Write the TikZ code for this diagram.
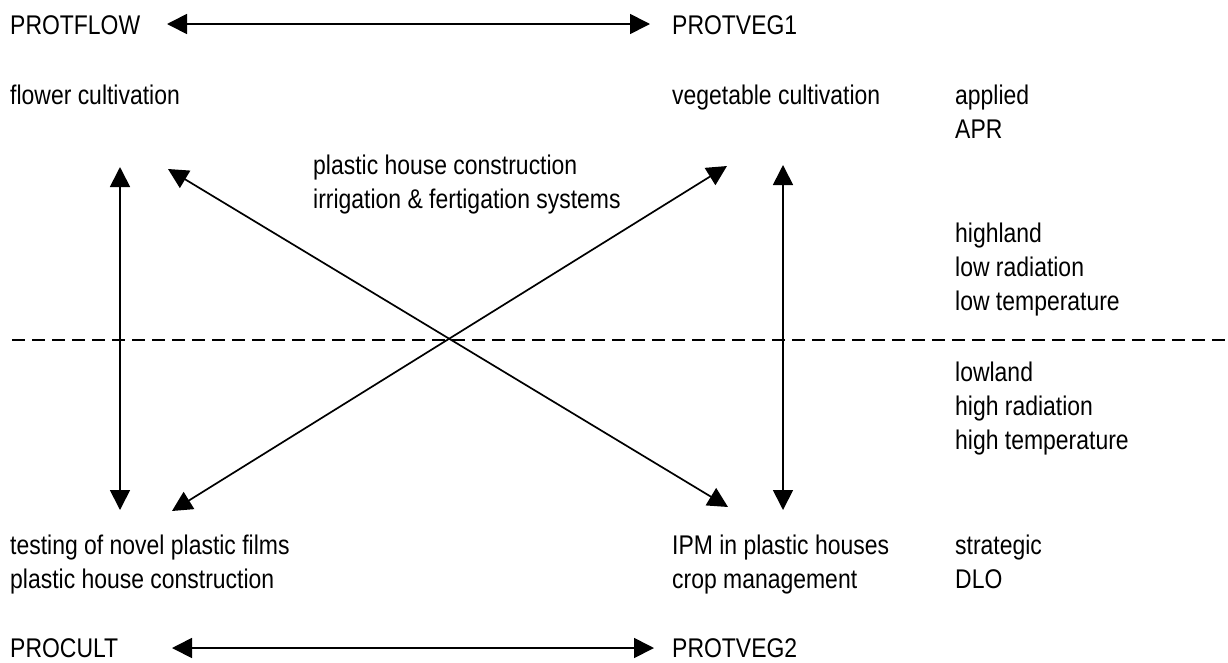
\documentclass[tikz,border=0pt]{standalone}
\usepackage{fontspec}
\setmainfont[FakeStretch=0.85]{Liberation Sans}
\usetikzlibrary{positioning, arrows.meta}

\begin{document}
\begin{tikzpicture}[
    x=1pt, y=-1pt,
    txt/.style={
        anchor=base west,
        inner sep=0pt,
        align=left,
        font=\fontsize{27}{34}\selectfont
    },
    arrow/.style={
        {Triangle[length=20pt, width=20pt]}-{Triangle[length=20pt, width=20pt]},
        line width=1.7pt
    },
    divider/.style={
        dash pattern=on 13pt off 7pt,
        line width=1.7pt
    }
]
\useasboundingbox (0,0) rectangle (1228,662);

% base = baseline of the last line
\node[txt] (protflow) at (10,34) {PROTFLOW};
\node[txt] (protveg1) at (672,34) {PROTVEG1};
\node[txt] (flower) at (10,104) {flower cultivation};
\node[txt] (vegetable) at (672,104) {vegetable cultivation};
\node[txt] (applied) at (955,138) {applied\\APR};
\node[txt] (shared) at (313,208)
{plastic house construction\\irrigation \& fertigation systems};
\node[txt] (highland) at (955,310) {highland\\low radiation\\low temperature};
\node[txt] (lowland) at (955,449) {lowland\\high radiation\\high temperature};
\node[txt] (testing) at (10,588)
{testing of novel plastic films\\plastic house construction};
\node[txt] (ipm) at (672,588) {IPM in plastic houses\\crop management};
\node[txt] (strategic) at (955,588) {strategic\\DLO};
\node[txt] (procult) at (10,657) {PROCULT};
\node[txt] (protveg2) at (672,657) {PROTVEG2};

% arrow ends
\coordinate (topl) at (167,24);
\coordinate (topr) at (650,24);
\coordinate (botl) at (172,648);
\coordinate (botr) at (654,648);
\coordinate (leftup) at (120,167);
\coordinate (leftdown) at (120,510);
\coordinate (rightup) at (783,165);
\coordinate (rightdown) at (783,510);
\coordinate (diagaup) at (168,169);
\coordinate (diagadown) at (728,507);
\coordinate (diagbdown) at (172,511);
\coordinate (diagbup) at (727,166);
\coordinate (divl) at (12,340);
\coordinate (divr) at (1228,340);

\draw[arrow] (topl) -- (topr);
\draw[arrow] (botl) -- (botr);
\draw[arrow] (leftup) -- (leftdown);
\draw[arrow] (rightup) -- (rightdown);
\draw[arrow] (diagaup) -- (diagadown);
\draw[arrow] (diagbdown) -- (diagbup);
\draw[divider] (divl) -- (divr);
\end{tikzpicture}
\end{document}
